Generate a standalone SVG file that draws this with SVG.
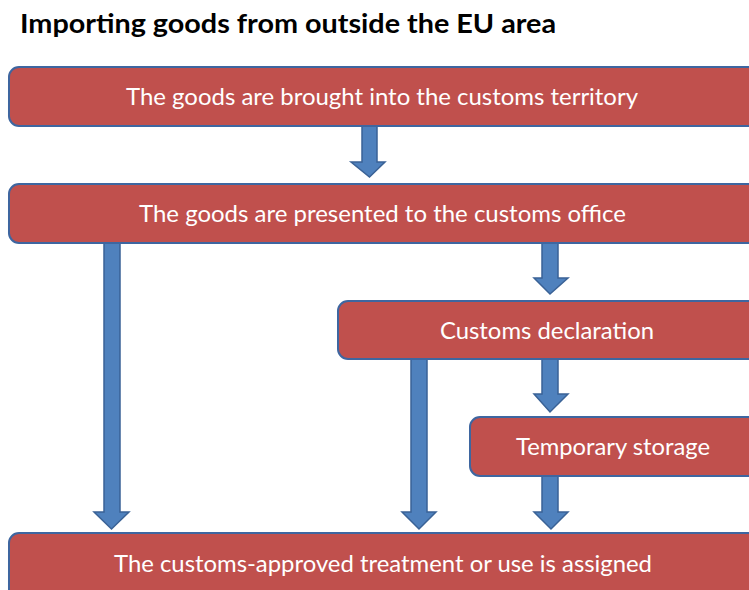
<svg xmlns="http://www.w3.org/2000/svg" width="749" height="590" viewBox="0 0 749 590">
  <style>
    .box { fill: #C0504D; stroke: #3E66A0; stroke-width: 2; }
    .lbl { fill: #FFFFFF; font-family: Lato, "Open Sans", "Liberation Sans", sans-serif; font-size: 24px; }
    .title { fill: #000000; font-family: Lato, "Open Sans", "Liberation Sans", sans-serif; font-size: 26px; font-weight: bold; }
    .arrow { fill: #4F81BD; stroke: #3A6296; stroke-width: 1.5; stroke-linejoin: miter; }
  </style>

  <rect width="749" height="590" fill="#FFFFFF"/>

  <text class="title" x="20" y="33" textLength="536" lengthAdjust="spacingAndGlyphs">Importing goods from outside the EU area</text>

  <!-- block arrows between the steps -->
  <g id="connectors">
    <!-- brought in -> presented -->
    <path class="arrow" d="M362,126 L377,126 L377,162 L385,162 L369.5,177 L351,162 L362,162 Z"/>
    <!-- presented -> customs-approved treatment (left branch) -->
    <path class="arrow" d="M104,243 L120,243 L120,512 L129,512 L111.5,529 L94,512 L104,512 Z"/>
    <!-- presented -> customs declaration -->
    <path class="arrow" d="M542,243 L558,243 L558,278 L568,278 L550,294 L534,278 L542,278 Z"/>
    <!-- declaration -> customs-approved treatment (middle branch) -->
    <path class="arrow" d="M411,359 L427,359 L427,512 L436,512 L419,529 L402,512 L411,512 Z"/>
    <!-- declaration -> temporary storage -->
    <path class="arrow" d="M542,359 L558,359 L558,394 L568,394 L550,412 L534,394 L542,394 Z"/>
    <!-- temporary storage -> customs-approved treatment -->
    <path class="arrow" d="M542,476 L558,476 L558,512 L568,512 L551,529 L534,512 L542,512 Z"/>
  </g>

  <g id="brought-in">
    <rect class="box" x="9" y="67" width="780" height="59" rx="10"/>
    <text class="lbl" x="126" y="105" textLength="512" lengthAdjust="spacingAndGlyphs">The goods are brought into the customs territory</text>
  </g>

  <g id="presented">
    <rect class="box" x="9" y="184" width="780" height="59" rx="10"/>
    <text class="lbl" x="139" y="222" textLength="487" lengthAdjust="spacingAndGlyphs">The goods are presented to the customs office</text>
  </g>

  <g id="declaration">
    <rect class="box" x="338" y="301" width="450" height="58" rx="10"/>
    <text class="lbl" x="440" y="339" textLength="214" lengthAdjust="spacingAndGlyphs">Customs declaration</text>
  </g>

  <g id="temporary-storage">
    <rect class="box" x="470" y="417" width="320" height="59" rx="10"/>
    <text class="lbl" x="516" y="455" textLength="194" lengthAdjust="spacingAndGlyphs">Temporary storage</text>
  </g>

  <g id="treatment-assigned">
    <rect class="box" x="9" y="533" width="780" height="80" rx="10"/>
    <text class="lbl" x="114" y="572" textLength="538" lengthAdjust="spacingAndGlyphs">The customs-approved treatment or use is assigned</text>
  </g>
</svg>
